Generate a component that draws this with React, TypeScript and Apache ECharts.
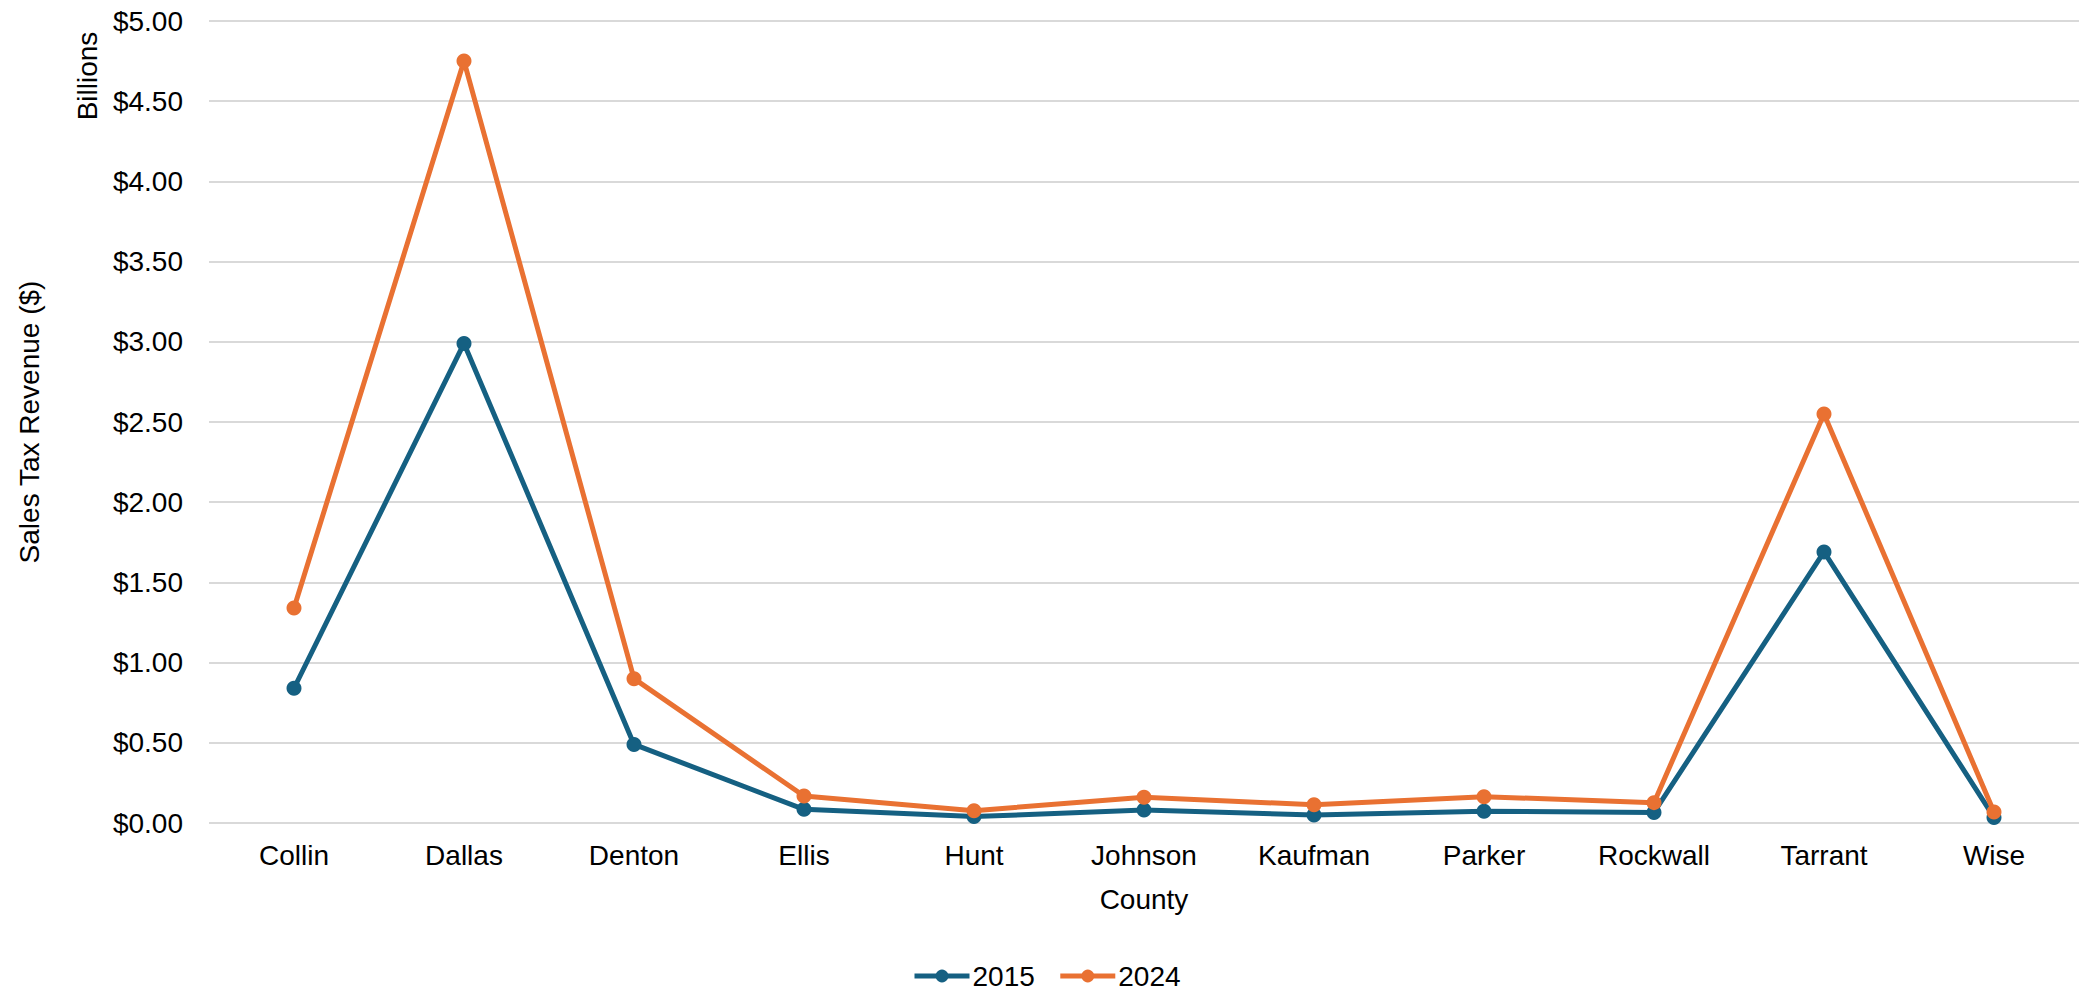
import React, { useEffect, useRef } from "react";
import * as echarts from "echarts";

const counties = ["Collin", "Dallas", "Denton", "Ellis", "Hunt", "Johnson", "Kaufman", "Parker", "Rockwall", "Tarrant", "Wise"];
const values2015 = [0.84, 2.99, 0.49, 0.085, 0.04, 0.081, 0.05, 0.073, 0.066, 1.69, 0.035];
const values2024 = [1.34, 4.75, 0.90, 0.168, 0.077, 0.16, 0.114, 0.164, 0.127, 2.55, 0.068];
const seriesNames = ["2015", "2024"];
const colors = ["#156082", "#E97132"];

const FONT = "'Liberation Sans', Arial, sans-serif";

export default function App() {
  const ref = useRef<HTMLDivElement>(null);
  useEffect(() => {
    if (!ref.current) return;
    const chart = echarts.init(ref.current, undefined, { renderer: "svg" });
    const gridLeft = 209;
    const gridRight = 1;
    const gridTop = 21;
    const gridBottom = 167;
    const plotCenterX = (gridLeft + (2080 - gridRight)) / 2;
    const plotCenterY = (gridTop + (990 - gridBottom)) / 2;
    chart.setOption({
      animation: false,
      textStyle: { fontFamily: FONT },
      grid: { left: gridLeft, right: gridRight, top: gridTop, bottom: gridBottom, containLabel: false },
      xAxis: {
        type: "category",
        data: counties,
        boundaryGap: true,
        axisLine: { show: false },
        axisTick: { show: false },
        axisLabel: { color: "#000", fontSize: 28, fontFamily: FONT, margin: 18, interval: 0 },
      },
      yAxis: {
        type: "value",
        min: 0,
        max: 5,
        interval: 0.5,
        axisLine: { show: false },
        axisTick: { show: false },
        splitLine: { lineStyle: { color: "#d9d9d9", width: 2 } },
        axisLabel: {
          color: "#000",
          fontSize: 28,
          fontFamily: FONT,
          margin: 26,
          formatter: (v: number) => "$" + v.toFixed(2),
        },
      },
      legend: {
        data: seriesNames,
        left: 907,
        top: 956,
        itemWidth: 55,
        itemHeight: 16,
        itemGap: 23,
        lineStyle: { width: 5 },
        textStyle: { color: "#000", fontSize: 28, lineHeight: 30, fontFamily: FONT, padding: [0, 0, 0, -2] },
      },
      graphic: [
        {
          type: "text",
          x: 87,
          y: 76,
          rotation: Math.PI / 2,
          style: { text: "Billions", fontSize: 28, fontFamily: FONT, fill: "#000", align: "center", verticalAlign: "middle" },
        },
        {
          type: "text",
          x: 29,
          y: plotCenterY,
          rotation: Math.PI / 2,
          style: { text: "Sales Tax Revenue ($)", fontSize: 28, fontFamily: FONT, fill: "#000", align: "center", verticalAlign: "middle" },
        },
        {
          type: "text",
          x: plotCenterX,
          y: 899,
          style: { text: "County", fontSize: 28, fontFamily: FONT, fill: "#000", align: "center", verticalAlign: "middle" },
        },
      ],
      series: [
        {
          name: seriesNames[0],
          type: "line",
          data: values2015,
          color: colors[0],
          symbol: "circle",
          symbolSize: 15,
          lineStyle: { width: 5, color: colors[0] },
          itemStyle: { color: colors[0] },
        },
        {
          name: seriesNames[1],
          type: "line",
          data: values2024,
          color: colors[1],
          symbol: "circle",
          symbolSize: 15,
          lineStyle: { width: 5, color: colors[1] },
          itemStyle: { color: colors[1] },
        },
      ],
    });
    return () => chart.dispose();
  }, []);
  return <div ref={ref} style={{ position: "fixed", left: 0, top: 0, width: 2080, height: 990, background: "#fff" }} />;
}
